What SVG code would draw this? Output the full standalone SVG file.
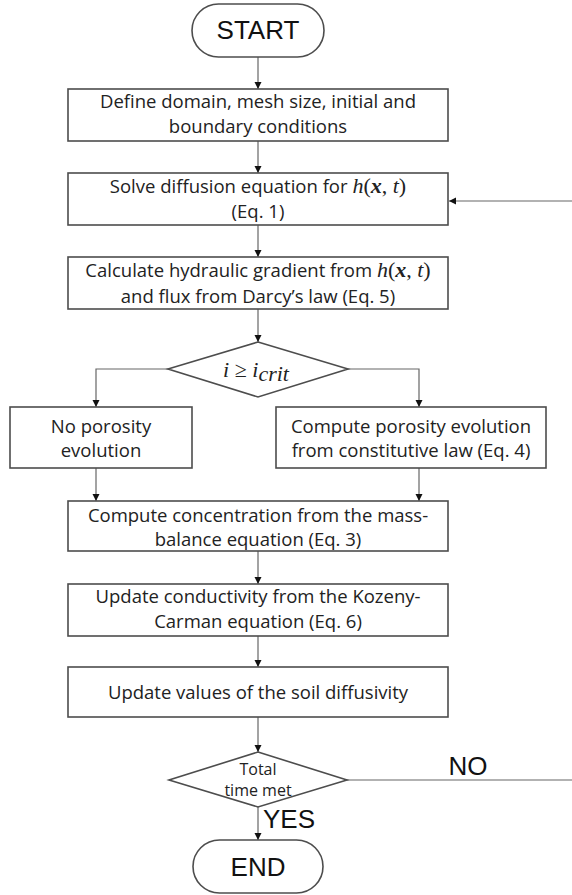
<svg xmlns="http://www.w3.org/2000/svg" width="572" height="895" viewBox="0 0 572 895">
<defs>
<marker id="ah" markerWidth="8" markerHeight="8" refX="7" refY="4" orient="auto" markerUnits="userSpaceOnUse">
<path d="M0,0.5 L7,4 L0,7.5 Z" fill="#111"/>
</marker>
<style>
.box{fill:#fff;stroke:#4d4d4d;stroke-width:1.6}
.ln{fill:none;stroke:#666;stroke-width:1.2}
.t{font-family:"Open Sans","Liberation Sans",sans-serif;font-size:18.5px;fill:#222;text-anchor:middle}
.big{font-family:"Liberation Sans",Arial,sans-serif;font-size:26px;fill:#111;text-anchor:middle}
.m{font-family:"Liberation Serif","DejaVu Serif",serif;font-style:italic;font-size:22px}
.mb{font-family:"Liberation Serif","DejaVu Serif",serif;font-style:italic;font-weight:bold;font-size:22px}
.mu{font-family:"Liberation Serif","DejaVu Serif",serif;font-style:normal;font-size:22px}
.s{font-family:"Open Sans","Liberation Sans",sans-serif;font-size:16px;fill:#222;text-anchor:middle}
</style>
</defs>
<rect width="572" height="895" fill="#fff"/>
<g id="connectors">
<line class="ln" x1="258" y1="57" x2="258" y2="89" marker-end="url(#ah)"/>
<line class="ln" x1="258" y1="141" x2="258" y2="173" marker-end="url(#ah)"/>
<line class="ln" x1="572" y1="201" x2="449" y2="201" marker-end="url(#ah)"/>
<line class="ln" x1="258" y1="225" x2="258" y2="257" marker-end="url(#ah)"/>
<line class="ln" x1="258" y1="309" x2="258" y2="342" marker-end="url(#ah)"/>
<polyline class="ln" points="168,369 96,369 96,407" marker-end="url(#ah)"/>
<polyline class="ln" points="348,369 419,369 419,407" marker-end="url(#ah)"/>
<line class="ln" x1="96" y1="468" x2="96" y2="501" marker-end="url(#ah)"/>
<line class="ln" x1="419" y1="468" x2="419" y2="501" marker-end="url(#ah)"/>
<line class="ln" x1="258" y1="551" x2="258" y2="584" marker-end="url(#ah)"/>
<line class="ln" x1="258" y1="636" x2="258" y2="667" marker-end="url(#ah)"/>
<line class="ln" x1="258" y1="717" x2="258" y2="752" marker-end="url(#ah)"/>
<line class="ln" x1="347" y1="780" x2="572" y2="780"/>
<line class="ln" x1="258" y1="807" x2="258" y2="840" marker-end="url(#ah)"/>
<text class="big" x="468" y="775">NO</text>
<text class="big" x="289" y="828">YES</text>
</g>
<g id="start">
<rect class="box" x="192" y="4" width="132" height="53" rx="26.5"/>
<text class="big" x="258" y="39">START</text>
</g>
<g id="define">
<rect class="box" x="68" y="89" width="380" height="52"/>
<text class="t" x="258" y="108">Define domain, mesh size, initial and</text>
<text class="t" x="258" y="133">boundary conditions</text>
</g>
<g id="solve">
<rect class="box" x="68" y="173" width="380" height="52"/>
<text class="t" x="258" y="193">Solve diffusion equation for <tspan class="m">h</tspan><tspan class="mu">(</tspan><tspan class="mb">x</tspan><tspan class="mu">, </tspan><tspan class="m">t</tspan><tspan class="mu">)</tspan></text>
<text class="t" x="258" y="218">(Eq. 1)</text>
</g>
<g id="gradient">
<rect class="box" x="68" y="257" width="380" height="52"/>
<text class="t" x="258" y="277">Calculate hydraulic gradient from <tspan class="m">h</tspan><tspan class="mu">(</tspan><tspan class="mb">x</tspan><tspan class="mu">, </tspan><tspan class="m">t</tspan><tspan class="mu">)</tspan></text>
<text class="t" x="258" y="303">and flux from Darcy’s law (Eq. 5)</text>
</g>
<g id="decision1">
<polygon class="box" points="258,342 348,369 258,397 168,369"/>
<text class="t" x="256" y="377"><tspan class="m">i</tspan><tspan class="mu"> ≥ </tspan><tspan class="m">i</tspan><tspan class="m" font-size="15" dy="4">crit</tspan></text>
</g>
<g id="noporosity">
<rect class="box" x="10" y="407" width="182" height="61"/>
<text class="t" x="101" y="433">No porosity</text>
<text class="t" x="101" y="457">evolution</text>
</g>
<g id="porosity">
<rect class="box" x="276" y="407" width="270" height="61"/>
<text class="t" x="411" y="433">Compute porosity evolution</text>
<text class="t" x="411" y="457">from constitutive law (Eq. 4)</text>
</g>
<g id="concentration">
<rect class="box" x="68" y="501" width="380" height="50"/>
<text class="t" x="258" y="522">Compute concentration from the mass-</text>
<text class="t" x="258" y="546">balance equation (Eq. 3)</text>
</g>
<g id="conductivity">
<rect class="box" x="68" y="584" width="380" height="52"/>
<text class="t" x="258" y="603">Update conductivity from the Kozeny-</text>
<text class="t" x="258" y="628">Carman equation (Eq. 6)</text>
</g>
<g id="diffusivity">
<rect class="box" x="68" y="667" width="380" height="50"/>
<text class="t" x="258" y="699">Update values of the soil diffusivity</text>
</g>
<g id="decision2">
<polygon class="box" points="258,752 347,780 258,807 169,780"/>
<text class="s" x="258" y="775">Total</text>
<text class="s" x="258" y="796">time met</text>
</g>
<g id="end">
<rect class="box" x="193" y="840" width="130" height="53" rx="26.5"/>
<text class="big" x="258" y="876">END</text>
</g>
</svg>
